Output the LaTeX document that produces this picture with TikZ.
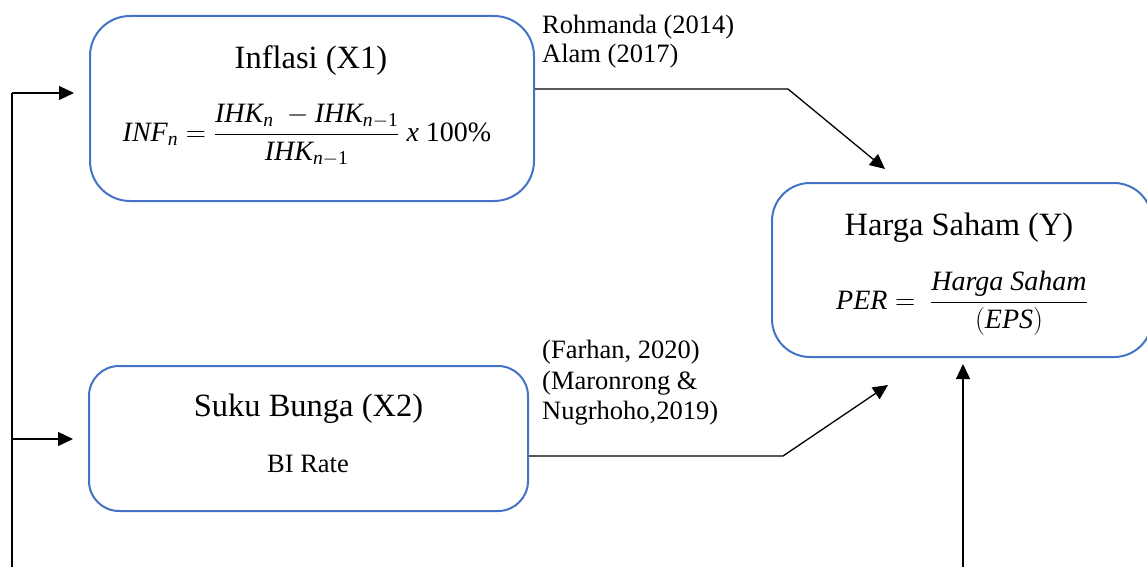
\RequirePackage{fix-cm}
\documentclass[tikz,border=0pt]{standalone}
\usepackage{amsmath}
\usepackage{fontspec}
\setmainfont{Liberation Serif}
\usetikzlibrary{arrows.meta}
\definecolor{boxblue}{HTML}{4472C4}
\newcommand{\mvar}[1]{\textit{#1}}
\tikzset{
  varbox/.style={draw=boxblue, line width=2pt, rectangle, inner sep=0pt},
  titletext/.style={inner sep=0pt, anchor=base, font=\fontsize{32.5}{39}\selectfont},
  subtext/.style={inner sep=0pt, anchor=base, font=\fontsize{26.5}{30}\selectfont},
  reftext/.style={inner sep=0pt, anchor=base west, font=\fontsize{26.5}{30}\selectfont},
  mathtext/.style={inner sep=0pt, anchor=base, font=\fontsize{28}{32}\selectfont},
  conn/.style={draw=black, line width=1.3pt, -{Triangle[length=15pt,width=14pt]}},
}
\begin{document}
\begin{tikzpicture}[x=1pt,y=-1pt]
\useasboundingbox (0,0) rectangle (1147,567);
% boxes
\node[varbox, rounded corners=40pt, minimum width=444pt, minimum height=185pt] (inf) at (312,108.5) {};
\node[varbox, rounded corners=38pt, minimum width=380pt, minimum height=174pt] (har) at (962,270) {};
\node[varbox, rounded corners=30pt, minimum width=439pt, minimum height=145pt] (suk) at (308.5,438.5) {};
% box texts
\node[titletext] (inft) at (311,69) {Inflasi (X1)};
\node[mathtext] (inff) at (307,141) {$\mvar{INF}_{\mvar{n}} = \dfrac{\mvar{IHK}_{\mvar{n}}\ - \mvar{IHK}_{\mvar{n}-\text{1}}}{\mvar{IHK}_{\mvar{n}-\text{1}}}\ \mvar{x}\ \text{100\%}$};
\node[titletext] (hart) at (959,235) {Harga Saham (Y)};
\node[mathtext] (harf) at (962,309) {$\mvar{PER} = \ \dfrac{\mvar{Harga\ Saham}}{(\mvar{EPS})}$};
\node[titletext] (sukt) at (308.5,416) {Suku Bunga (X2)};
\node[subtext] (sukb) at (308,472) {BI Rate};
% reference labels
\node[reftext] (r1) at (542,34) {Rohmanda (2014)};
\node[reftext] (r2) at (542,63) {Alam (2017)};
\node[reftext] (r3) at (542,358) {(Farhan, 2020)};
\node[reftext] (r4) at (542,389) {(Maronrong \&};
\node[reftext] (r5) at (542,419) {Nugrhoho,2019)};
% coordinates
\coordinate (lb) at (12,567);
\coordinate (lt) at (12,93);
\coordinate (lm) at (12,439);
\coordinate (k1) at (788,89);
\coordinate (t1) at (885,169);
\coordinate (k2) at (783,456);
\coordinate (t2) at (888,385);
\coordinate (bb) at (963,567);
% connectors
\draw[line width=1.3pt] (lb) -- (lt);
\draw[conn, shorten >=15pt] (lt) -- (lt -| inf.west);
\draw[conn, shorten >=15pt] (lm) -- (lm -| suk.west);
\draw[conn] (inf.east |- k1) -- (k1) -- (t1);
\draw[conn] (suk.east |- k2) -- (k2) -- (t2);
\draw[conn, shorten >=6pt] (bb) -- (bb |- har.south);
\end{tikzpicture}
\end{document}
